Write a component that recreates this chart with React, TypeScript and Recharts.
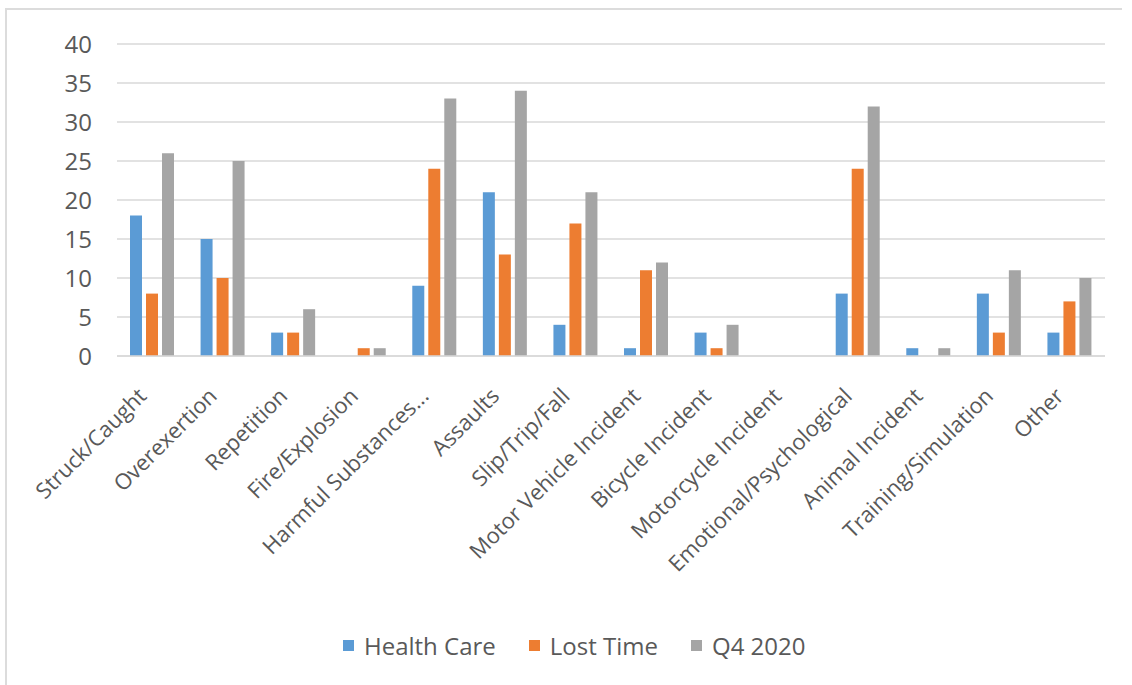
import React from 'react';
import { BarChart, Bar, XAxis, YAxis, CartesianGrid, Legend } from 'recharts';

const categories = [
  'Struck/Caught',
  'Overexertion',
  'Repetition',
  'Fire/Explosion',
  'Harmful Substances...',
  'Assaults',
  'Slip/Trip/Fall',
  'Motor Vehicle Incident',
  'Bicycle Incident',
  'Motorcycle Incident',
  'Emotional/Psychological',
  'Animal Incident',
  'Training/Simulation',
  'Other',
];
const healthCare = [18, 15, 3, 0, 9, 21, 4, 1, 3, 0, 8, 1, 8, 3];
const lostTime = [8, 10, 3, 1, 24, 13, 17, 11, 1, 0, 24, 0, 3, 7];
const q42020 = [26, 25, 6, 1, 33, 34, 21, 12, 4, 0, 32, 1, 11, 10];
const yTicks = [0, 5, 10, 15, 20, 25, 30, 35, 40];
const seriesKeys = ['healthCare', 'lostTime', 'q42020'];
const seriesNames = ['Health Care', 'Lost Time', 'Q4 2020'];
const seriesColors = ['#5B9BD5', '#ED7D31', '#A5A5A5'];

const data = categories.map((c, i) => ({
  name: c,
  healthCare: healthCare[i],
  lostTime: lostTime[i],
  q42020: q42020[i],
}));

const TEXT = '#595959';
const FONT = '"Open Sans", sans-serif';

const XTick = (props: any) => {
  const { x, y, payload } = props;
  return (
    <g transform={`translate(${x - 10},${y + 36})`}>
      <text
        x={0}
        y={0}
        dy="0.35em"
        textAnchor="end"
        transform="rotate(-45)"
        fill={TEXT}
        fontSize={22}
        fontFamily={FONT}
      >
        {payload.value}
      </text>
    </g>
  );
};

const LegendContent = () => (
  <div
    style={{
      display: 'flex',
      alignItems: 'center',
      paddingLeft: 343,
      fontFamily: FONT,
      fontSize: 24,
      color: TEXT,
      height: 30,
    }}
  >
    {seriesNames.map((n, i) => (
      <div key={n} style={{ display: 'flex', alignItems: 'center', marginRight: 33 }}>
        <span style={{ display: 'inline-block', width: 11, height: 11, background: seriesColors[i], marginRight: 10 }} />
        <span>{n}</span>
      </div>
    ))}
  </div>
);

export default function App() {
  return (
    <div style={{ position: 'absolute', left: 0, top: 0, width: 1132, height: 685, background: '#fff' }}>
      <div
        style={{
          position: 'absolute',
          left: 5,
          top: 8,
          width: 1115,
          height: 677,
          borderTop: '2px solid #DCDCDC',
          borderLeft: '2px solid #DCDCDC',
        }}
      />
      <div style={{ position: 'absolute', left: 0, top: 0 }}>
        <BarChart
          width={1132}
          height={685}
          data={data}
          margin={{ top: 44, right: 27, left: 0, bottom: 0 }}
          barSize={12}
          barGap={4}
        >
          <CartesianGrid vertical={false} stroke="#D9D9D9" strokeWidth={1.5} />
          <XAxis
            dataKey="name"
            interval={0}
            height={329}
            tickLine={false}
            tickSize={0}
            tickMargin={0}
            axisLine={{ stroke: '#D9D9D9', strokeWidth: 1.5 }}
            tick={<XTick />}
          />
          <YAxis
            domain={[0, 40]}
            ticks={yTicks}
            width={117}
            axisLine={false}
            tickLine={false}
            tickSize={0}
            tickMargin={25}
            tick={{ fill: TEXT, fontSize: 24, fontFamily: FONT }}
          />
          <Legend
            verticalAlign="middle"
            wrapperStyle={{ top: 630, left: 0, width: 1132, height: 30 }}
            content={<LegendContent />}
          />
          {seriesKeys.map((k, i) => (
            <Bar key={k} dataKey={k} name={seriesNames[i]} fill={seriesColors[i]} isAnimationActive={false} />
          ))}
        </BarChart>
      </div>
    </div>
  );
}
